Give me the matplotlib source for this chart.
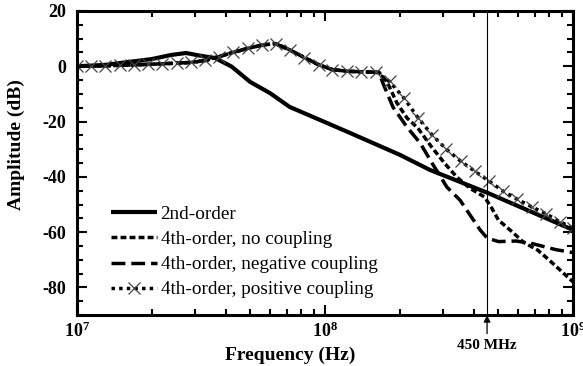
import matplotlib
matplotlib.use("Agg")
import matplotlib.pyplot as plt
from matplotlib.ticker import FixedLocator, FixedFormatter, LogLocator, NullFormatter, MultipleLocator

plt.rcParams['font.family'] = ['Liberation Serif', 'DejaVu Serif']
plt.rcParams['mathtext.fontset'] = 'custom'
plt.rcParams['mathtext.rm'] = 'Liberation Serif:bold'
plt.rcParams['mathtext.bf'] = 'Liberation Serif:bold'
plt.rcParams['axes.unicode_minus'] = False

# Respuesta en frecuencia (Hz, dB)
f_2nd = [1.0e7, 1.3e7, 2.0e7, 2.4e7, 2.75e7, 3.2e7, 3.6e7, 4.2e7, 5.0e7, 6.0e7,
         7.2e7, 1.0e8, 1.26e8, 2.0e8, 2.65e8, 4.5e8, 1.0e9]
a_2nd = [0.0, 0.5, 2.6, 4.1, 4.8, 3.7, 3.0, -0.1, -5.7, -9.7,
         -14.7, -20.2, -24.1, -32.0, -37.5, -45.7, -59.2]

f_nocoup = [1.0e7, 1.3e7, 1.7e7, 2.2e7, 2.9e7, 3.3e7, 3.7e7, 4.3e7, 4.9e7, 5.6e7,
            6.3e7, 7.2e7, 8.3e7, 9.4e7, 1.07e8, 1.23e8, 1.40e8, 1.65e8, 1.78e8, 1.95e8,
            2.14e8, 2.37e8, 2.69e8, 3.03e8, 3.40e8, 3.85e8, 4.4e8, 4.7e8, 5.0e8, 5.7e8,
            6.3e8, 7.2e8, 7.85e8, 8.6e8, 9.5e8, 1.0e9]
a_nocoup = [0.0, 0.2, 0.5, 0.9, 1.4, 2.1, 3.4, 5.1, 6.5, 7.7,
            8.2, 5.9, 3.1, 0.6, -1.2, -1.8, -2.0, -2.2, -5.7, -13.3,
            -18.7, -22.4, -29.2, -35.0, -40.1, -44.2, -47.3, -51.3, -55.6, -60.0,
            -63.6, -66.5, -69.4, -72.6, -76.2, -78.0]

f_neg = [1.0e7, 1.3e7, 1.7e7, 2.2e7, 2.9e7, 3.3e7, 3.7e7, 4.3e7, 4.9e7, 5.6e7,
         6.3e7, 7.2e7, 8.3e7, 9.4e7, 1.07e8, 1.23e8, 1.40e8, 1.65e8, 1.71e8, 1.88e8,
         2.14e8, 2.42e8, 2.70e8, 3.10e8, 3.50e8, 4.22e8, 4.5e8, 5.0e8, 5.9e8, 6.9e8,
         8.5e8, 1.0e9]
a_neg = [0.0, 0.2, 0.5, 0.9, 1.4, 2.1, 3.4, 5.1, 6.5, 7.7,
         8.2, 5.9, 3.1, 0.6, -1.2, -1.8, -2.0, -2.2, -6.0, -14.8,
         -22.0, -27.8, -35.0, -43.7, -48.4, -59.2, -62.1, -63.4, -63.2, -64.2,
         -66.3, -67.4]

f_pos = [1.00e7, 1.14e7, 1.30e7, 1.49e7, 1.70e7, 1.93e7, 2.21e7, 2.52e7, 2.87e7, 3.28e7,
         3.74e7, 4.27e7, 4.87e7, 5.56e7, 6.34e7, 7.23e7, 8.25e7, 9.42e7, 1.07e8, 1.23e8,
         1.40e8, 1.60e8, 1.82e8, 2.08e8, 2.37e8, 2.70e8, 3.08e8, 3.52e8, 4.02e8, 4.58e8,
         5.23e8, 5.96e8, 6.80e8, 7.76e8, 8.85e8, 1.00e9]
a_pos = [0.0, 0.1, 0.2, 0.3, 0.5, 0.7, 0.9, 1.1, 1.4, 2.1,
         3.5, 5.1, 6.5, 7.7, 8.2, 5.9, 3.1, 0.6, -1.2, -1.8,
         -2.0, -2.1, -5.5, -11.5, -18.6, -24.8, -30.0, -34.3, -38.0, -41.5,
         -45.2, -48.1, -50.8, -53.3, -56.2, -58.5]

f_mark = 450e6
xtick_vals = [1e7, 1e8, 1e9]
xtick_text = [r'$\mathbf{10^{7}}$', r'$\mathbf{10^{8}}$', r'$\mathbf{10^{9}}$']

fig = plt.figure(figsize=(5.83, 3.66), dpi=100)
ax = fig.add_axes([0.132, 0.139, 0.851, 0.831])

ax.plot(f_2nd, a_2nd, color='black', lw=3.0, solid_capstyle='butt', label='2nd-order')
ax.plot(f_nocoup, a_nocoup, color='black', lw=2.5, dashes=(1.7, 0.9), label='4th-order, no coupling')
ax.plot(f_neg, a_neg, color='black', lw=2.5, dashes=(4.0, 1.7), label='4th-order, negative coupling')
ax.plot(f_pos, a_pos, color='black', lw=2.5, dashes=(1.0, 1.2), marker='x', ms=9,
        mew=0.9, mec='#444444', label='4th-order, positive coupling')

ax.axvline(f_mark, color='black', lw=0.8)

ax.set_xscale('log')
ax.set_xlim(1e7, 1e9)
ax.set_ylim(-90, 20)

ax.xaxis.set_major_locator(FixedLocator(xtick_vals))
ax.xaxis.set_major_formatter(FixedFormatter(xtick_text))
ax.xaxis.set_minor_locator(LogLocator(base=10, subs=range(2, 10)))
ax.xaxis.set_minor_formatter(NullFormatter())
ax.yaxis.set_major_locator(MultipleLocator(20))
ax.yaxis.set_minor_locator(MultipleLocator(5))

ax.tick_params(which='both', direction='in', top=True, right=True, width=1.5)
ax.tick_params(which='major', length=7)
ax.tick_params(which='minor', length=4.5)
ax.tick_params(axis='y', which='major', labelsize=13, pad=8)
ax.tick_params(axis='x', which='major', labelsize=13, pad=5)
for lbl in ax.get_yticklabels():
    lbl.set_fontweight('bold')
for sp in ax.spines.values():
    sp.set_linewidth(2.2)

ax.set_xlabel('Frequency (Hz)', fontsize=14, fontweight='bold')
ax.xaxis.set_label_coords(0.43, -0.105)
ax.set_ylabel('Amplitude (dB)', fontsize=14, fontweight='bold')
ax.yaxis.set_label_coords(-0.105, 0.56)

ax.annotate('450 MHz', xy=(f_mark, -90), xycoords='data',
            xytext=(0, -22), textcoords='offset points',
            ha='center', va='center', fontsize=11, fontweight='bold',
            annotation_clip=False,
            arrowprops=dict(arrowstyle='-|>', color='black', lw=0.9,
                            shrinkA=2, shrinkB=0, mutation_scale=10))

leg = ax.legend(loc='upper left', bbox_to_anchor=(0.068, 0.36), frameon=False,
                fontsize=13.8, handlelength=2.4, handletextpad=0.2, labelspacing=0.4,
                borderpad=0, borderaxespad=0, numpoints=1)

fig.savefig('out.png', dpi=100)
